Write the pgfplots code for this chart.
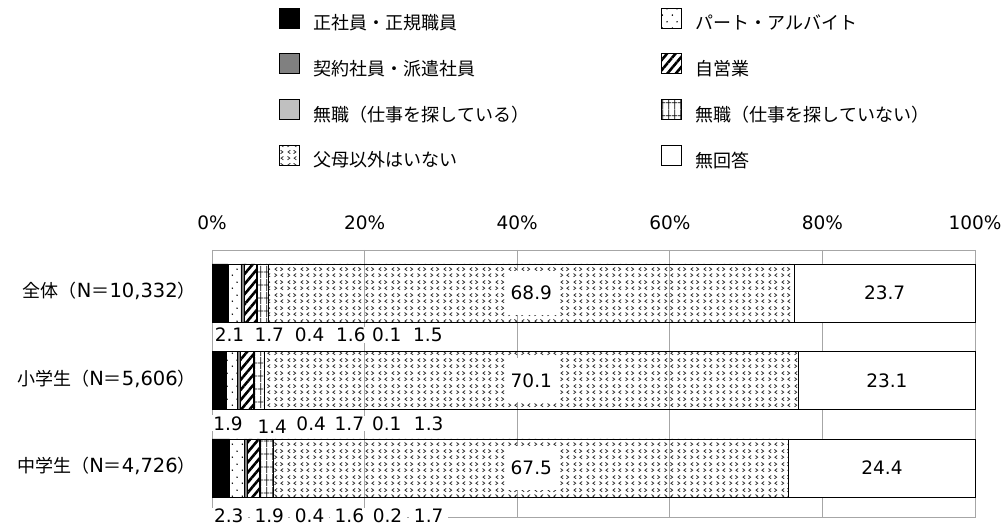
\documentclass[border=0pt]{standalone}
\usepackage{fontspec}
\setmainfont{DejaVu Sans}
\newfontfamily\cjk{Noto Sans CJK JP}
\usepackage{pgfplots}
\pgfplotsset{compat=1.18}
\usetikzlibrary{patterns.meta}

\definecolor{gridgray}{HTML}{A6A6A6}
\definecolor{midgray}{HTML}{808080}
\definecolor{lgray}{HTML}{C0C0C0}

\newcommand\numfont{\fontsize{18.5bp}{20bp}\selectfont}
\newcommand\catfont{\fontsize{19.5bp}{20bp}\selectfont}
\newcommand\jpfont{\cjk\fontsize{18bp}{20bp}\selectfont}

% sparse dots (part-time)
\tikzdeclarepattern{
  name=sparsedots, type=uncolored,
  bounding box={(0bp,0bp) and (10bp,13bp)},
  tile size={(10bp,13bp)},
  code={\fill (2.5bp,3bp) circle (0.9bp); \fill (7.5bp,9.5bp) circle (0.9bp);}
}
% grid (no job, not looking)
\tikzdeclarepattern{
  name=gridp, type=uncolored,
  bounding box={(0bp,0bp) and (6bp,13bp)},
  tile size={(6bp,13bp)},
  code={\draw[line width=0.8bp] (3bp,0bp) -- (3bp,13bp);
        \draw[line width=0.8bp] (0bp,6.5bp) -- (6bp,6.5bp);}
}
% small chevrons (no parents)
\tikzdeclarepattern{
  name=chev, type=uncolored,
  bounding box={(0bp,0bp) and (13bp,13bp)},
  tile size={(13bp,13bp)},
  code={
    \draw[line width=0.85bp] (1.6bp,1.2bp) -- (4bp,3bp) -- (1.6bp,4.8bp);
    \draw[line width=0.85bp] (10.9bp,1.2bp) -- (8.5bp,3bp) -- (10.9bp,4.8bp);
    \draw[line width=0.85bp] (8bp,7.7bp) -- (10.4bp,9.5bp) -- (8bp,11.3bp);
    \draw[line width=0.85bp] (4.5bp,7.7bp) -- (2.1bp,9.5bp) -- (4.5bp,11.3bp);
  }
}

\pgfplotsset{
  seg/.style={draw=black, line width=0.7bp,
    legend image code/.code={\draw[##1] (0bp,-5bp) rectangle (20bp,15bp);}},
}
\tikzset{big/.style={font=\numfont, fill=white, inner xsep=5bp, minimum height=44bp},
         sm/.style={font=\numfont, fill=white, inner xsep=1.5bp, inner ysep=1bp},
         smb/.style={sm, inner xsep=4.5bp}}

\begin{document}
\begin{tikzpicture}[x=1bp,y=1bp]
\useasboundingbox (0,0) rectangle (1003,525);
\begin{axis}[
  clip=false,
  at={(212bp,8bp)}, anchor=south west,
  scale only axis, width=763bp, height=267bp,
  xbar stacked, bar width=0.663,
  xmin=0, xmax=100, ymin=-0.49, ymax=2.56, y dir=reverse,
  axis line style={gridgray, line width=0.8bp},
  xmajorgrids, grid style={gridgray, line width=0.8bp},
  major tick length=0pt,
  xtick={0,20,40,60,80,100},
  xticklabels={0\%,20\%,40\%,60\%,80\%,100\%},
  xticklabel pos=upper,
  xticklabel style={font=\numfont, inner sep=0pt, anchor=south, yshift=20bp},
  ytick={0,1,2},
  yticklabels={{{\jpfont 全体（}N{\jpfont ＝}10,332{\jpfont ）}},
               {{\jpfont 小学生（}N{\jpfont ＝}5,606{\jpfont ）}},
               {{\jpfont 中学生（}N{\jpfont ＝}4,726{\jpfont ）}}},
  yticklabel style={font=\catfont, inner sep=0pt, anchor=east, xshift=-16bp, yshift=2bp},
  legend columns=2,
  legend style={at={(0.0878,1.9076)}, anchor=north west, draw=none, fill=none,
    inner sep=0pt, outer sep=0pt, font=\jpfont, row sep=22bp,
    nodes={inner sep=0pt},
    /tikz/every odd column/.append style={column sep=14bp},
    /tikz/every even column/.append style={column sep=132bp}},
  legend cell align=left,
  after end axis/.code={
    \node[big] at (axis cs:41.85,0) {68.9};
    \node[big] at (axis cs:88.15,0) {23.7};
    \node[big] at (axis cs:41.85,1) {70.1};
    \node[big] at (axis cs:88.45,1) {23.1};
    \node[big] at (axis cs:41.85,2) {67.5};
    \node[big] at (axis cs:87.8,2) {24.4};
    \node[sm] at (axis cs:2.3,0.48) {2.1};
    \node[sm] at (axis cs:7.5,0.48) {1.7};
    \node[sm] at (axis cs:12.8,0.48) {0.4};
    \node[sm] at (axis cs:18.2,0.48) {1.6};
    \node[sm] at (axis cs:22.9,0.48) {0.1};
    \node[sm] at (axis cs:28.3,0.48) {1.5};
    \node[sm] at (axis cs:2.1,1.49) {1.9};
    \node[sm] at (axis cs:7.9,1.53) {1.4};
    \node[sm] at (axis cs:13.0,1.49) {0.4};
    \node[sm] at (axis cs:18.0,1.49) {1.7};
    \node[sm] at (axis cs:22.9,1.49) {0.1};
    \node[sm] at (axis cs:28.4,1.49) {1.3};
    \node[smb] at (axis cs:2.2,2.545) {2.3};
    \node[smb] at (axis cs:7.5,2.545) {1.9};
    \node[smb] at (axis cs:12.8,2.545) {0.4};
    \node[smb] at (axis cs:18.0,2.545) {1.6};
    \node[smb] at (axis cs:23.0,2.545) {0.2};
    \node[smb] at (axis cs:28.4,2.545) {1.7};
  },
]
\addplot[seg, fill=black] coordinates {(2.1,0) (1.9,1) (2.3,2)};
\addlegendentry{正社員・正規職員}
\addplot[seg, pattern=sparsedots, pattern color=black] coordinates {(1.7,0) (1.4,1) (1.9,2)};
\addlegendentry{パート・アルバイト}
\addplot[seg, fill=midgray] coordinates {(0.4,0) (0.4,1) (0.4,2)};
\addlegendentry{契約社員・派遣社員}
\addplot[seg, pattern={Lines[angle=50, distance=6.5bp, line width=2.6bp]}, pattern color=black] coordinates {(1.6,0) (1.7,1) (1.6,2)};
\addlegendentry{自営業}
\addplot[seg, fill=lgray] coordinates {(0.1,0) (0.1,1) (0.2,2)};
\addlegendentry{無職（仕事を探している）}
\addplot[seg, pattern=gridp, pattern color=black] coordinates {(1.5,0) (1.3,1) (1.7,2)};
\addlegendentry{無職（仕事を探していない）}
\addplot[seg, pattern=chev, pattern color=black!80] coordinates {(68.9,0) (70.1,1) (67.5,2)};
\addlegendentry{父母以外はいない}
\addplot[seg, fill=white] coordinates {(23.7,0) (23.1,1) (24.4,2)};
\addlegendentry{無回答}
\end{axis}
\end{tikzpicture}
\end{document}
